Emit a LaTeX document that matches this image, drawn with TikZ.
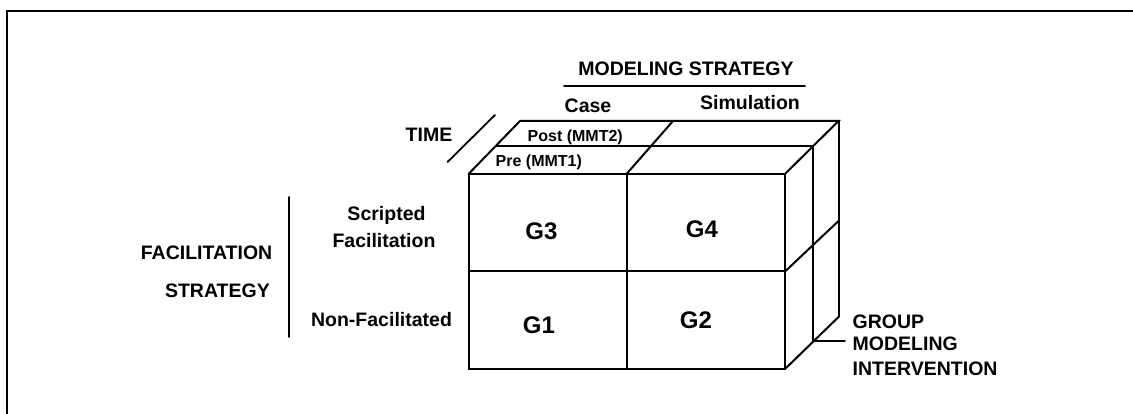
\documentclass[tikz,border=0pt]{standalone}
\usepackage{fontspec}
\setmainfont{Liberation Sans}
\begin{document}
\begin{tikzpicture}[x=1pt,y=-1pt,
  edge/.style={line width=2pt, line cap=round},
  thin edge/.style={line width=1.8pt, line cap=round},
  lbl/.style={font=\fontsize{19.5}{22}\selectfont\bfseries, inner sep=0pt},
  small lbl/.style={font=\fontsize{16}{18}\selectfont\bfseries, inner sep=0pt},
  cell lbl/.style={font=\fontsize{24}{28}\selectfont\bfseries, inner sep=0pt}]
\useasboundingbox (0,0) rectangle (1133,414);

% frame (top and left edges)
\draw[line width=2.4pt] (7,414) -- (7,11) -- (1133,11);

% --- front face of the cube ---
\coordinate (ftl) at (468.5,174);
\coordinate (ftm) at (626.5,174);
\coordinate (ftr) at (785,174);
\coordinate (fml) at (468.5,271.5);
\coordinate (fmr) at (785,271.5);
\coordinate (fbl) at (468.5,369);
\coordinate (fbm) at (626.5,369);
\coordinate (fbr) at (785,369);
% first depth layer
\coordinate (l1) at (496,146);
\coordinate (r1) at (812.5,146);
\coordinate (r1m) at (812.5,246.5);
\coordinate (r1b) at (812.5,341);
% back layer
\coordinate (bl) at (520,121);
\coordinate (bm) at (673,121);
\coordinate (br) at (838.5,121);
\coordinate (brm) at (838.5,221);
\coordinate (brb) at (838.5,317);

\draw[edge] (ftl) rectangle (fbr);
\draw[edge] (fml) -- (fmr);
\draw[edge] (ftm) -- (fbm);

% top face
\draw[edge] (ftl) -- (bl) -- (br) -- (ftr);
\draw[edge] (ftm) -- (bm);
\draw[edge] (l1) -- (r1);

% right face
\draw[edge] (r1) -- (r1b);
\draw[edge] (br) -- (brb);
\draw[edge] (fmr) -- (brm);
\draw[edge] (fbr) -- (brb);

% cell labels
\node[cell lbl, anchor=base] (g3) at (541.5,240) {G3};
\node[cell lbl, anchor=base] (g4) at (702,238) {G4};
\node[cell lbl, anchor=base] (g1) at (539,333) {G1};
\node[cell lbl, anchor=base] (g2) at (696,328) {G2};

% modeling strategy axis
\node[lbl, anchor=base] (ms) at (686,76) {MODELING STRATEGY};
\coordinate (msl) at (564,86);
\coordinate (msr) at (805,86);
\draw[thin edge] (msl) -- (msr);
\node[lbl, anchor=base] (case) at (588,113) {Case};
\node[lbl, anchor=base] (sim) at (750,110) {Simulation};

% time axis
\node[lbl, anchor=base east] (time) at (452.5,141.5) {TIME};
\coordinate (ts) at (447.5,162);
\coordinate (te) at (495,115);
\draw[thin edge] (ts) -- (te);
\node[small lbl, anchor=base west] (post) at (527.5,142) {Post (MMT2)};
\node[small lbl, anchor=base west] (pre) at (495.5,167) {Pre (MMT1)};

% facilitation strategy axis
\node[lbl, anchor=base east] (fac) at (272.5,260) {FACILITATION};
\node[lbl, anchor=base east] (str) at (270,298) {STRATEGY};
\coordinate (vt) at (289,197);
\coordinate (vb) at (289,337);
\draw[thin edge] (vt) -- (vb);
\node[lbl, anchor=base] (scr1) at (386.5,221) {Scripted};
\node[lbl, anchor=base] (scr2) at (384,248) {Facilitation};
\node[lbl, anchor=base] (nonf) at (381.5,326.5) {Non-Facilitated};

% group modeling intervention
\node[lbl, anchor=base west] (gmi1) at (852.5,328) {GROUP};
\node[lbl, anchor=base west] (gmi2) at (852.5,350) {MODELING};
\node[lbl, anchor=base west] (gmi3) at (852.5,375) {INTERVENTION};
\coordinate (pe) at (845,341);
\draw[thin edge] (r1b) -- (pe);
\end{tikzpicture}
\end{document}
